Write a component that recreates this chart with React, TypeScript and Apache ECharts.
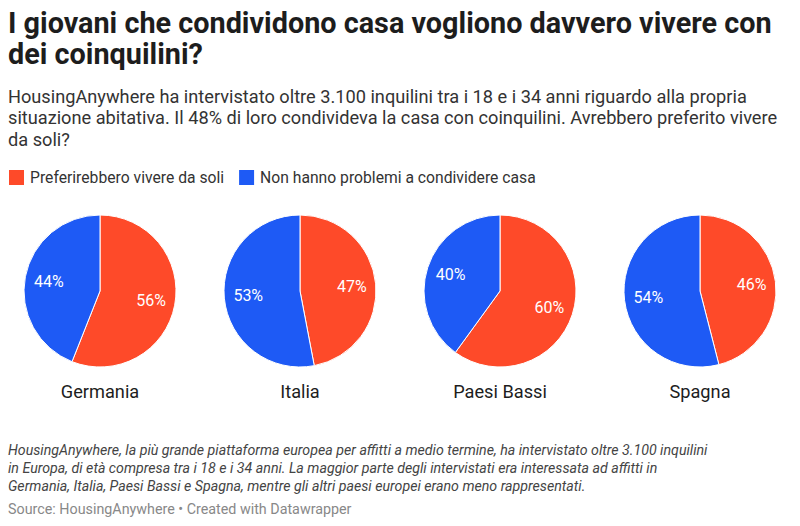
import React, { useEffect, useRef } from "react";
import * as echarts from "echarts";

const countries = ["Germania", "Italia", "Paesi Bassi", "Spagna"];
const seriesNames = ["Preferirebbero vivere da soli", "Non hanno problemi a condividere casa"];
const preferAlone = [56, 47, 60, 46];
const fineSharing = [44, 53, 40, 54];
const seriesColors = ["#fe4a29", "#1e5af5"];

const titleLines = [
  "I giovani che condividono casa vogliono davvero vivere con",
  "dei coinquilini?",
];
const descLines = [
  "HousingAnywhere ha intervistato oltre 3.100 inquilini tra i 18 e i 34 anni riguardo alla propria",
  "situazione abitativa. Il 48% di loro condivideva la casa con coinquilini. Avrebbero preferito vivere",
  "da soli?",
];
const noteLines = [
  "HousingAnywhere, la più grande piattaforma europea per affitti a medio termine, ha intervistato oltre 3.100 inquilini",
  "in Europa, di età compresa tra i 18 e i 34 anni. La maggior parte degli intervistati era interessata ad affitti in",
  "Germania, Italia, Paesi Bassi e Spagna, mentre gli altri paesi europei erano meno rappresentati.",
];
const sourceText = "Source: HousingAnywhere • Created with Datawrapper";

const FONT = "Roboto, 'Noto Sans', sans-serif";

export default function App() {
  const ref = useRef<HTMLDivElement>(null);

  useEffect(() => {
    if (!ref.current) return;
    const chart = echarts.init(ref.current, undefined, { renderer: "svg" });

    const centersX = [100, 300, 500, 700];
    const centerY = 291;
    const R = 76;

    const series: any[] = [];
    countries.forEach((c, i) => {
      const data = [
        { name: seriesNames[0], value: preferAlone[i], itemStyle: { color: seriesColors[0] } },
        { name: seriesNames[1], value: fineSharing[i], itemStyle: { color: seriesColors[1] } },
      ];
      series.push({
        type: "pie",
        name: c,
        center: [centersX[i], centerY],
        radius: [0, R],
        startAngle: 90,
        clockwise: true,
        silent: true,
        label: { show: false },
        labelLine: { show: false },
        itemStyle: { borderColor: "#ffffff", borderWidth: 1 },
        data,
      });
      series.push({
        type: "pie",
        name: c + "-labels",
        center: [centersX[i], centerY],
        radius: [22, R],
        startAngle: 90,
        clockwise: true,
        silent: true,
        legendHoverLink: false,
        itemStyle: { color: "rgba(0,0,0,0)", borderWidth: 0 },
        label: {
          show: true,
          position: "inside",
          formatter: "{c}%",
          color: "#ffffff",
          fontSize: 16,
          fontFamily: FONT,
        },
        labelLine: { show: false },
        data: [
          { name: "a" + i, value: preferAlone[i] },
          { name: "b" + i, value: fineSharing[i] },
        ],
      });
    });

    const graphics: any[] = [];
    titleLines.forEach((t, k) => {
      graphics.push({
        type: "text",
        x: 8,
        y: 22.5 + k * 31.6,
        style: {
          text: t,
          font: `bold 28.8px ${FONT}`,
          fill: "#1d1d1d",
          verticalAlign: "middle",
        },
      });
    });
    descLines.forEach((t, k) => {
      graphics.push({
        type: "text",
        x: 8,
        y: 96.3 + k * 21.6,
        style: {
          text: t,
          font: `18.2px ${FONT}`,
          fill: "#333333",
          verticalAlign: "middle",
        },
      });
    });
    countries.forEach((c, i) => {
      graphics.push({
        type: "text",
        x: centersX[i],
        y: 391.5,
        style: {
          text: c,
          font: `18.2px ${FONT}`,
          fill: "#1d1d1d",
          align: "center",
          verticalAlign: "middle",
        },
      });
    });
    noteLines.forEach((t, k) => {
      graphics.push({
        type: "text",
        x: 8,
        y: 450 + k * 18,
        style: {
          text: t,
          font: `italic 14.2px ${FONT}`,
          fill: "#444444",
          verticalAlign: "middle",
        },
      });
    });
    graphics.push({
      type: "text",
      x: 8,
      y: 509,
      style: {
        text: sourceText,
        font: `14.3px ${FONT}`,
        fill: "#888888",
        verticalAlign: "middle",
      },
    });

    chart.setOption({
      animation: false,
      backgroundColor: "#ffffff",
      legend: {
        show: true,
        data: seriesNames,
        left: 7,
        top: 168,
        icon: "rect",
        itemWidth: 17,
        itemHeight: 17,
        itemGap: 13,
        padding: 0,
        selectedMode: false,
        textStyle: { fontSize: 15.7, color: "#333333", fontFamily: FONT },
      },
      series,
      graphic: graphics,
    });

    return () => chart.dispose();
  }, []);

  return (
    <div
      ref={ref}
      style={{ position: "fixed", left: 0, top: 0, width: 800, height: 526, background: "#fff" }}
    />
  );
}
